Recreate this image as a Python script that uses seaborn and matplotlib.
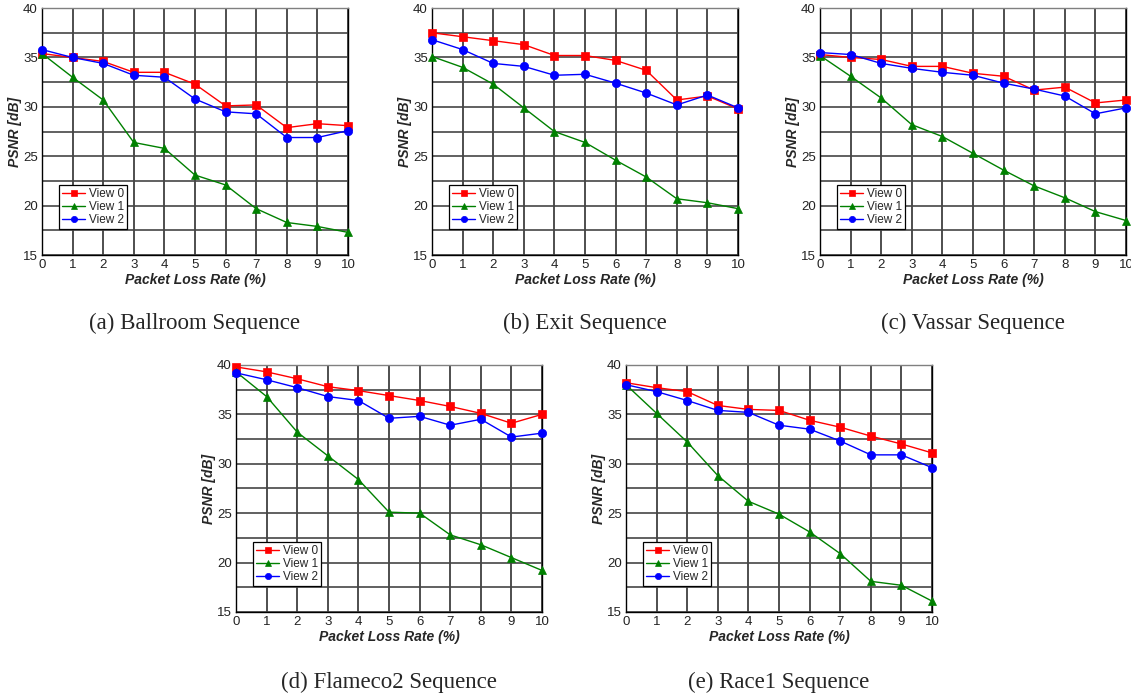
import matplotlib
matplotlib.use("Agg")
import matplotlib.pyplot as plt
import seaborn as sns
import numpy as np
import pandas as pd
from matplotlib.ticker import MultipleLocator

loss_rate = list(range(11))
views = ['View 0', 'View 1', 'View 2']

# (a) Ballroom
ballroom_v0 = [35.4, 35.0, 34.6, 33.5, 33.5, 32.3, 30.1, 30.2, 27.9, 28.3, 28.1]
ballroom_v1 = [35.4, 33.0, 30.7, 26.4, 25.8, 23.1, 22.1, 19.7, 18.3, 17.9, 17.3]
ballroom_v2 = [35.8, 35.0, 34.4, 33.2, 33.0, 30.8, 29.5, 29.3, 26.9, 26.9, 27.6]
# (b) Exit
exit_v0 = [37.5, 37.1, 36.7, 36.3, 35.2, 35.2, 34.7, 33.7, 30.7, 31.1, 29.8]
exit_v1 = [35.1, 34.0, 32.3, 29.9, 27.5, 26.4, 24.6, 22.9, 20.7, 20.3, 19.7]
exit_v2 = [36.8, 35.8, 34.4, 34.1, 33.2, 33.3, 32.4, 31.4, 30.2, 31.2, 29.9]
# (c) Vassar
vassar_v0 = [35.3, 35.0, 34.8, 34.1, 34.1, 33.4, 33.1, 31.7, 32.0, 30.4, 30.7]
vassar_v1 = [35.2, 33.1, 30.9, 28.2, 27.0, 25.3, 23.6, 22.0, 20.8, 19.4, 18.5]
vassar_v2 = [35.5, 35.3, 34.4, 33.9, 33.5, 33.2, 32.4, 31.8, 31.1, 29.3, 29.9]
# (d) Flameco2
flameco_v0 = [39.8, 39.3, 38.6, 37.8, 37.4, 36.9, 36.4, 35.8, 35.1, 34.1, 35.0]
flameco_v1 = [39.3, 36.8, 33.2, 30.8, 28.4, 25.1, 25.0, 22.8, 21.8, 20.5, 19.2]
flameco_v2 = [39.2, 38.5, 37.7, 36.8, 36.4, 34.6, 34.8, 33.9, 34.5, 32.7, 33.1]
# (e) Race1
race_v0 = [38.2, 37.7, 37.3, 35.9, 35.5, 35.4, 34.4, 33.7, 32.8, 32.0, 31.1]
race_v1 = [38.0, 35.1, 32.2, 28.8, 26.2, 24.9, 23.1, 20.9, 18.1, 17.7, 16.1]
race_v2 = [38.0, 37.3, 36.4, 35.4, 35.2, 33.9, 33.5, 32.3, 30.9, 30.9, 29.6]

sequences = [
    ('(a) Ballroom Sequence', [ballroom_v0, ballroom_v1, ballroom_v2]),
    ('(b) Exit Sequence', [exit_v0, exit_v1, exit_v2]),
    ('(c) Vassar Sequence', [vassar_v0, vassar_v1, vassar_v2]),
    ('(d) Flameco2 Sequence', [flameco_v0, flameco_v1, flameco_v2]),
    ('(e) Race1 Sequence', [race_v0, race_v1, race_v2]),
]

sns.set_style("white")
plt.rcParams['font.family'] = ['Liberation Sans', 'DejaVu Sans']

fig = plt.figure(figsize=(11.31, 6.97), dpi=100)

# axes rectangles in figure fractions (left, bottom, width, height)
W, H = 0.2706, 0.3544
positions = [
    (0.0371, 0.634, W, H),
    (0.3820, 0.634, W, H),
    (0.7250, 0.634, W, H),
    (0.2087, 0.122, W, H),
    (0.5535, 0.122, W, H),
]
caption_y = [0.5366, 0.5366, 0.5366, 0.0215, 0.0215]

palette = {'View 0': '#ff0000', 'View 1': '#008000', 'View 2': '#0000ff'}
markers = {'View 0': 's', 'View 1': '^', 'View 2': 'o'}

for (caption, series), pos, cy in zip(sequences, positions, caption_y):
    ax = fig.add_axes(pos)
    df = pd.DataFrame({
        'rate': loss_rate * 3,
        'psnr': series[0] + series[1] + series[2],
        'view': [v for v in views for _ in loss_rate],
    })
    sns.lineplot(data=df, x='rate', y='psnr', hue='view', style='view',
                 palette=palette, markers=markers, dashes=False,
                 linewidth=1.0, markersize=6, markeredgewidth=0.5,
                 ax=ax, zorder=3, clip_on=False)
    for ln in ax.lines:
        ln.set_markeredgecolor(ln.get_color())

    ax.set_xlim(0, 10)
    ax.set_ylim(15, 40)
    ax.xaxis.set_major_locator(MultipleLocator(1))
    ax.xaxis.set_minor_locator(MultipleLocator(0.5))
    ax.yaxis.set_major_locator(MultipleLocator(5))
    ax.yaxis.set_minor_locator(MultipleLocator(2.5))
    ax.grid(True, which='major', axis='x', color='#303030', linewidth=1.2)
    ax.grid(True, which='both', axis='y', color='#454545', linewidth=1.2)
    ax.set_axisbelow(True)
    ax.tick_params(which='both', direction='in', labelsize=9.5, pad=3,
                   colors='black', labelcolor='#222222')
    ax.tick_params(which='major', length=3)
    ax.tick_params(which='minor', length=2)
    for sp in ax.spines.values():
        sp.set_color('black')
        sp.set_linewidth(1.0)
    ax.spines['top'].set_color('#808080')

    ax.set_xlabel('Packet Loss Rate (%)', fontsize=10, fontweight='bold',
                  fontstyle='italic', labelpad=1)
    ax.set_ylabel('PSNR [dB]', fontsize=10, fontweight='bold',
                  fontstyle='italic', labelpad=1)

    ax.legend(title=None, loc='lower left', bbox_to_anchor=(0.055, 0.105),
              fontsize=8.5, frameon=True, fancybox=False, edgecolor='black',
              framealpha=1, handlelength=2.0, handletextpad=0.3,
              borderpad=0.25, labelspacing=0.1, markerscale=0.75,
              borderaxespad=0)
    ax.get_legend().get_frame().set_linewidth(0.9)

    fig.text(pos[0] + pos[2] / 2, cy, caption, ha='center', va='center',
             fontsize=16.5, family=['Liberation Serif', 'DejaVu Serif'])

fig.savefig('out.png', dpi=100)
